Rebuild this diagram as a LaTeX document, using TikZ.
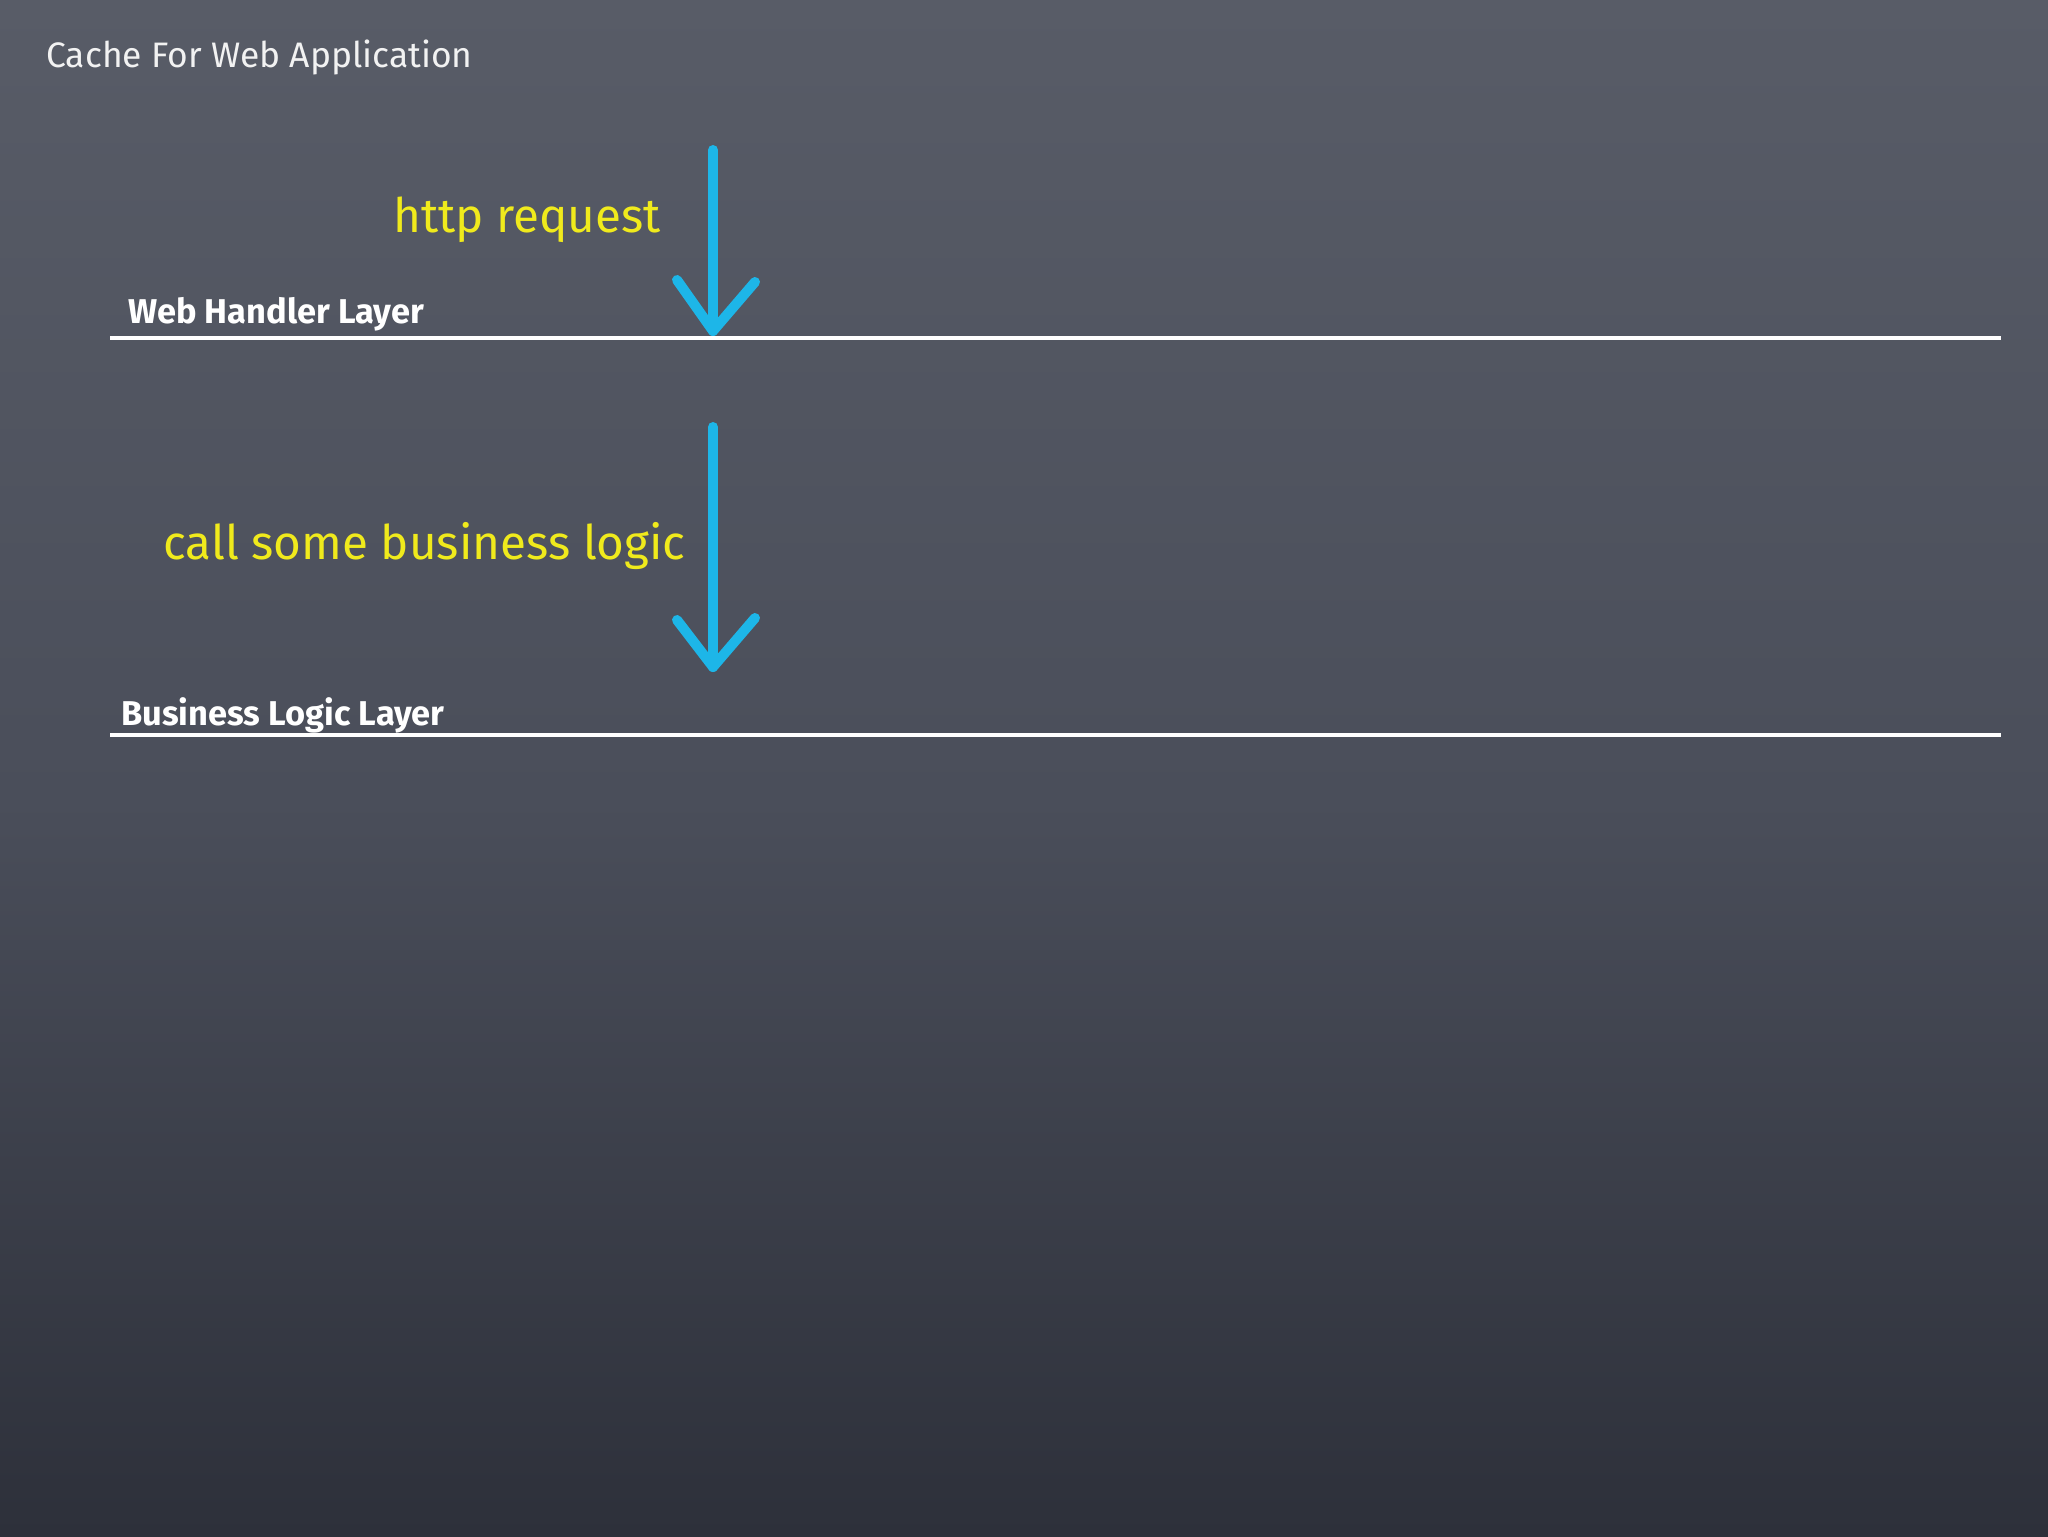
\documentclass[tikz,border=0pt]{standalone}
\usepackage{fontspec}
\setmainfont{Fira Sans}
\newfontfamily\layerfont{Fira Sans}
\begin{document}
\begin{tikzpicture}[x=0.5pt,y=-0.5pt,
  title/.style={anchor=base west, inner sep=0pt, text=chalkwhite, font=\fontsize{17.7}{19}\selectfont},
  note/.style={anchor=base west, inner sep=0pt, text=chalkyellow, font=\fontsize{23.8}{26}\selectfont},
  layerlabel/.style={anchor=base west, inner sep=0pt, text=white, font=\layerfont\bfseries\fontsize{17.2}{19}\selectfont},
  layerline/.style={draw=white, line width=2pt},
  chalkarrow/.style={draw=chalkblue, line width=5pt, line cap=round},
  chalkhead/.style={draw=chalkblue, line width=5pt, line cap=round, line join=round}]
\definecolor{chalkwhite}{HTML}{F2F2F2}
\definecolor{chalkyellow}{HTML}{F0EA1C}
\definecolor{chalkblue}{HTML}{1DB6E8}
\definecolor{boardtop}{HTML}{585C67}
\definecolor{boardmid}{HTML}{4A4E5A}
\definecolor{boardbot}{HTML}{2D303A}
\useasboundingbox (0,0) rectangle (2048,1536);
\fill[top color=boardtop, bottom color=boardmid] (0,0) rectangle (2048,800);
\fill[top color=boardmid, bottom color=boardbot] (0,800) rectangle (2048,1536);

\node[title] (title) at (46,68) {Cache For Web Application};

% layer 1
\node[note] (http) at (393,232) {http request};
\coordinate (a1top) at (713,150);
\coordinate (a1tip) at (713,331);
\coordinate (a1l) at (677,280);
\coordinate (a1r) at (755,282);
\draw[chalkarrow] (a1top) -- (a1tip);
\draw[chalkhead] (a1l) -- (a1tip) -- (a1r);
\node[layerlabel] (web) at (128,323) {Web Handler Layer};
\coordinate (l1a) at (110,338);
\coordinate (l1b) at (2001,338);
\draw[layerline] (l1a) -- (l1b);

% layer 2
\node[note] (call) at (163,559) {call some business logic};
\coordinate (a2top) at (713,427);
\coordinate (a2tip) at (713,667);
\coordinate (a2l) at (677,620);
\coordinate (a2r) at (755,618);
\draw[chalkarrow] (a2top) -- (a2tip);
\draw[chalkhead] (a2l) -- (a2tip) -- (a2r);
\node[layerlabel] (biz) at (121,725) {Business Logic Layer};
\coordinate (l2a) at (110,735);
\coordinate (l2b) at (2001,735);
\draw[layerline] (l2a) -- (l2b);
\end{tikzpicture}
\end{document}
